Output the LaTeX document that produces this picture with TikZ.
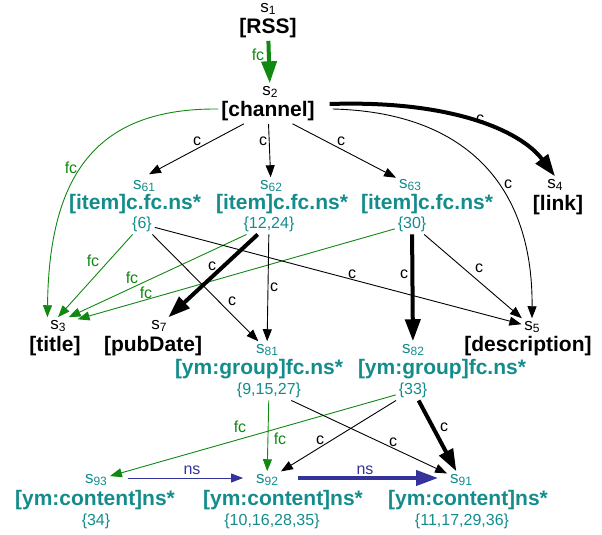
\documentclass[tikz,border=0pt]{standalone}
\usepackage{fontspec}
\setmainfont{Liberation Sans}
\usetikzlibrary{arrows.meta}
\definecolor{setteal}{RGB}{20,140,140}
\definecolor{fcgreen}{RGB}{17,136,17}
\definecolor{nsblue}{RGB}{51,51,153}
\newcommand{\sid}[1]{s\raisebox{-0.25ex}{\fontsize{12}{12}\selectfont #1}}
\tikzset{
  sname/.style={font=\fontsize{17}{17}\selectfont, inner sep=1pt, outer sep=2pt},
  tagname/.style={font=\fontsize{21}{21}\selectfont\bfseries, inner sep=1pt, outer sep=2pt},
  setname/.style={font=\fontsize{16}{16}\selectfont, text=setteal, inner sep=1pt, outer sep=2pt},
  elabel/.style={font=\fontsize{16}{16}\selectfont, inner sep=0pt},
  cedge/.style={-{Triangle[length=12pt,width=9pt]}, line width=0.9pt},
  cthick/.style={-{Triangle[length=22pt,width=15pt]}, line width=4pt},
  fcedge/.style={cedge, fcgreen},
  fcthick/.style={cthick, fcgreen},
  nsedge/.style={cedge, nsblue},
  nsthick/.style={cthick, nsblue}
}
\begin{document}
\begin{tikzpicture}[x=1pt,y=-1pt,line join=round]
  \useasboundingbox (0,0) rectangle (602,535);
  \node[sname] (s1) at (268,9) {\sid{1}};
  \node[tagname] (rss) at (268,28) {[RSS]};
  \node[sname] (s2) at (270,92) {\sid{2}};
  \node[tagname] (chan) at (268,111) {[channel]};
  \node[sname,setteal] (s61) at (144,186) {\sid{61}};
  \node[tagname,setteal] (l61) at (135,204) {[item]c.fc.ns*};
  \node[setname] (v61) at (142,224) {\{6\}};
  \node[sname,setteal] (s62) at (271,186) {\sid{62}};
  \node[tagname,setteal] (l62) at (282,204) {[item]c.fc.ns*};
  \node[setname] (v62) at (269,224) {\{12,24\}};
  \node[sname,setteal] (s63) at (410,185) {\sid{63}};
  \node[tagname,setteal] (l63) at (427,204) {[item]c.fc.ns*};
  \node[setname] (v63) at (412,224) {\{30\}};
  \node[sname] (s4) at (555,185) {\sid{4}};
  \node[tagname] (link) at (558,205) {[link]};
  \node[sname] (s3) at (58,326) {\sid{3}};
  \node[tagname] (title) at (55,346) {[title]};
  \node[sname] (s7) at (159,326) {\sid{7}};
  \node[tagname] (pubdate) at (153,346) {[pubDate]};
  \node[sname] (s5) at (532,327) {\sid{5}};
  \node[tagname] (descr) at (528,346) {[description]};
  \node[sname,setteal] (s81) at (267,350) {\sid{81}};
  \node[tagname,setteal] (l81) at (259,369) {[ym:group]fc.ns*};
  \node[setname] (v81) at (269,390) {\{9,15,27\}};
  \node[sname,setteal] (s82) at (413,350) {\sid{82}};
  \node[tagname,setteal] (l82) at (442,369) {[ym:group]fc.ns*};
  \node[setname] (v82) at (413,390) {\{33\}};
  \node[sname,setteal] (s93) at (96,480) {\sid{93}};
  \node[tagname,setteal] (l93) at (95,500) {[ym:content]ns*};
  \node[setname] (v93) at (96,521) {\{34\}};
  \node[sname,setteal] (s92) at (267,480) {\sid{92}};
  \node[tagname,setteal] (l92) at (283,500) {[ym:content]ns*};
  \node[setname] (v92) at (272,521) {\{10,16,28,35\}};
  \node[sname,setteal] (s91) at (461,480) {\sid{91}};
  \node[tagname,setteal] (l91) at (468,500) {[ym:content]ns*};
  \node[setname] (v91) at (462,521) {\{11,17,29,36\}};

  \draw[fcthick] (rss) -- (s2);
  \draw[cedge] (chan) -- ([shift={(5,-3)}]s61.north);
  \draw[cedge] (chan) -- (s62);
  \draw[cedge] (chan) -- (s63);
  \draw[cthick] ([shift={(12,-7)}]chan.east) .. controls (450,100) and (520,130) .. (s4.north);
  \draw[cedge] ([shift={(15,-2)}]chan.east) .. controls (460,112) and (533,180) .. (s5.north);
  \draw[fcedge] ([shift={(0,-2)}]chan.west) .. controls (100,108) and (49,170) .. (s3.north west);
  \draw[fcedge] (v61) -- (s3.north);
  \draw[fcedge] (v62) -- (s3.north east);
  \draw[fcedge] (v63) -- ([shift={(9,2)}]s3.north east);
  \draw[cthick] (v62) -- (s7);
  \draw[cedge] (v61) -- (s81);
  \draw[cedge] (v62) -- (s81);
  \draw[cedge] (v61) -- (s5);
  \draw[cthick] (v63) -- (s82);
  \draw[cedge] (v63) -- (s5);
  \draw[fcedge] (v81) -- (s92);
  \draw[fcedge] (v82) -- (s93);
  \draw[cedge] (v81) -- (s91);
  \draw[cedge] (v82) -- (s92);
  \draw[cthick] (v82) -- (s91);
  \draw[nsedge] ([shift={(18,-2)}]s93.east) -- ([shift={(-10,-2)}]s92.west);
  \draw[nsthick] ([shift={(17,-2)}]s92.east) -- ([shift={(-9,-2)}]s91.west);

  \node[elabel,fcgreen] (t1) at (258,55) {fc};
  \node[elabel] (t2) at (197,141) {c};
  \node[elabel] (t3) at (263,141) {c};
  \node[elabel] (t4) at (341,141) {c};
  \node[elabel] (t5) at (480,119) {c};
  \node[elabel] (t6) at (508,184) {c};
  \node[elabel,fcgreen] (t7) at (71,168) {fc};
  \node[elabel,fcgreen] (t8) at (93,261) {fc};
  \node[elabel,fcgreen] (t9) at (132,278) {fc};
  \node[elabel,fcgreen] (t10) at (146,293) {fc};
  \node[elabel] (t11) at (212,266) {c};
  \node[elabel] (t12) at (232,301) {c};
  \node[elabel] (t13) at (274,287) {c};
  \node[elabel] (t14) at (352,274) {c};
  \node[elabel] (t15) at (404,274) {c};
  \node[elabel] (t16) at (479,268) {c};
  \node[elabel,fcgreen] (t17) at (280,439) {fc};
  \node[elabel,fcgreen] (t18) at (240,427) {fc};
  \node[elabel] (t19) at (393,442) {c};
  \node[elabel] (t20) at (320,440) {c};
  \node[elabel] (t21) at (444,427) {c};
  \node[elabel,nsblue] (t22) at (192,470) {ns};
  \node[elabel,nsblue] (t23) at (365,470) {ns};
\end{tikzpicture}
\end{document}
